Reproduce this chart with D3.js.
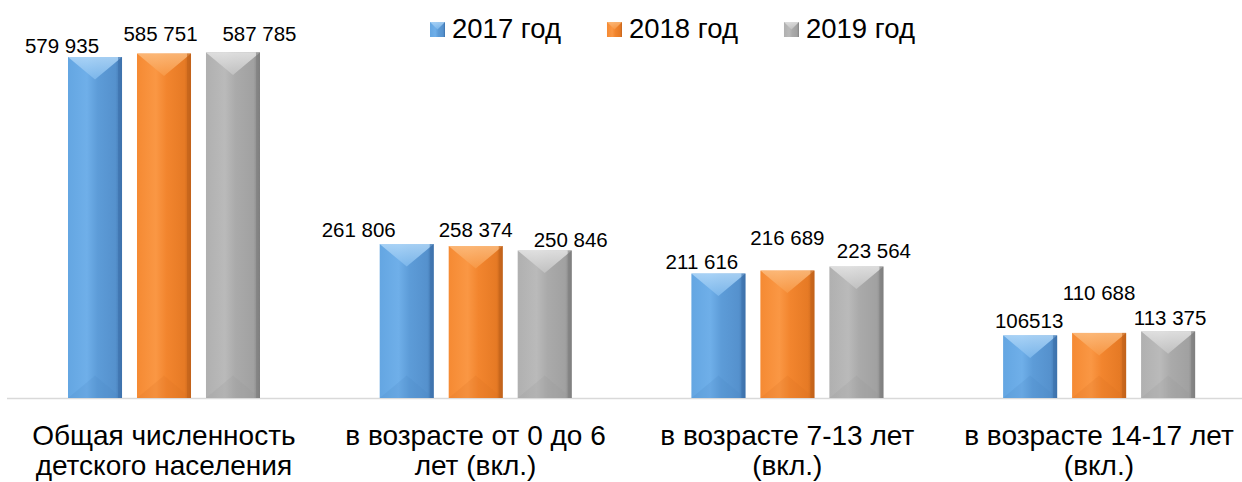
<!DOCTYPE html>
<html><head><meta charset="utf-8">
<script src="https://cdn.jsdelivr.net/npm/d3@7"></script>
<style>
html,body{margin:0;padding:0;background:#fff;}
svg{display:block;font-family:"Liberation Sans",Arial,Helvetica,sans-serif;}
</style>
</head><body>
<svg id="chart" width="1242" height="482"></svg>
<script>
// ---------- DATA ----------
const categories = [
  "Общая численность детского населения",
  "в возрасте от 0 до 6 лет (вкл.)",
  "в возрасте 7-13 лет (вкл.)",
  "в возрасте 14-17 лет (вкл.)"
];
const seriesNames = ["2017 год", "2018 год", "2019 год"];
const values2017 = [579935, 261806, 211616, 106513];
const values2018 = [585751, 258374, 216689, 110688];
const values2019 = [587785, 250846, 223564, 113375];
const labels2017 = ["579 935", "261 806", "211 616", "106513"];
const labels2018 = ["585 751", "258 374", "216 689", "110 688"];
const labels2019 = ["587 785", "250 846", "223 564", "113 375"];

// ---------- LAYOUT / STYLE ----------
const W = 1242, H = 482;
const baseY = 398.5;
const labelNudge = [ // [dx, dy] of value labels per series per category (label placement in source)
  [[-33, -4], [-48, -7], [-16.5, -4.6], [-1, -7.4]],
  [[-3.5, -12.5], [0, -9], [0, -25.6], [0, -33]],
  [[26.5, -11.5], [26, -3.5], [17.5, -8.5], [2, -6.3]]
];
const palette = [
  {body: ["#64a6e2", "#6fafe9", "#5d9cd8", "#5591cd", "#3d72ab"], top: ["#b2d8f8", "#80baed"], bot: "#4a86c2"},
  {body: ["#f58a33", "#fa9744", "#f2852e", "#e67a25", "#c2621a"], top: ["#fcbd80", "#f89a48"], bot: "#d96f20"},
  {body: ["#b0b0b0", "#bababa", "#aaaaaa", "#a1a1a1", "#7f7f7f"], top: ["#e6e6e6", "#c4c4c4"], bot: "#989898"}
];

const seriesValues = [values2017, values2018, values2019];
const seriesLabels = [labels2017, labels2018, labels2019];
const rows = [];
seriesNames.forEach((s, si) => categories.forEach((c, ci) => rows.push({
  series: s, si, cat: c, ci, value: seriesValues[si][ci], label: seriesLabels[si][ci]
})));

const svg = d3.select("#chart");
const defs = svg.append("defs");
palette.forEach((p, i) => {
  const g = defs.append("linearGradient").attr("id", "body" + i).attr("x1", 0).attr("x2", 1).attr("y1", 0).attr("y2", 0);
  [0, 0.35, 0.55, 0.88, 1].forEach((o, k) => g.append("stop").attr("offset", o).attr("stop-color", p.body[k]));
  const t = defs.append("linearGradient").attr("id", "top" + i).attr("x1", 0).attr("x2", 0).attr("y1", 0).attr("y2", 1);
  t.append("stop").attr("offset", 0).attr("stop-color", p.top[0]);
  t.append("stop").attr("offset", 1).attr("stop-color", p.top[1]);
});

const x0 = d3.scaleBand().domain(categories).range([8, 1254.8]).padding(0);
const x1 = d3.scaleBand().domain(seriesNames).range([60, 252]).paddingInner(0.217).paddingOuter(0);
const y = d3.scaleLinear().domain([0, 600000]).range([baseY - 0.5, 45.2]);

// axis line
const axis = svg.append("g").attr("transform", `translate(0,${baseY})`)
  .call(d3.axisBottom(x0).tickSize(0).tickFormat(""));
axis.select(".domain").attr("stroke", "#d9d9d9").attr("stroke-width", 1.5).attr("d", `M7,0H${W}`);

// bars
const bars = svg.append("g").selectAll("g").data(rows).join("g")
  .attr("transform", d => `translate(${x0(d.cat) + x1(d.series)},0)`);
const bw = x1.bandwidth();
bars.append("rect")
  .attr("x", 0).attr("y", d => y(d.value))
  .attr("width", bw).attr("height", d => y(0) - y(d.value))
  .attr("fill", d => `url(#body${d.si})`);
bars.append("path")
  .attr("d", d => {
    const t = y(d.value), h = y(0) - t, dep = Math.min(bw / 2.4, h / 2);
    return `M0,${t}L${bw},${t}L${bw / 2},${t + dep}Z`;
  })
  .attr("fill", d => `url(#top${d.si})`).attr("opacity", 0.85);
bars.append("path")
  .attr("d", d => {
    const t = y(d.value), b = y(0), h = b - t, dep = Math.min(bw / 2.4, h / 2);
    return `M0,${b}L${bw},${b}L${bw / 2},${b - dep}Z`;
  })
  .attr("fill", d => palette[d.si].bot).attr("opacity", 0.18);
bars.append("rect")
  .attr("x", bw - 4).attr("y", d => y(d.value))
  .attr("width", 4).attr("height", d => y(0) - y(d.value))
  .attr("fill", d => palette[d.si].body[4]).attr("opacity", 0.6);

// value labels
svg.append("g").selectAll("text").data(rows).join("text")
  .attr("x", d => x0(d.cat) + x1(d.series) + bw / 2 + labelNudge[d.si][d.ci][0])
  .attr("y", d => y(d.value) + labelNudge[d.si][d.ci][1])
  .attr("text-anchor", "middle")
  .attr("font-size", 20.5).attr("fill", "#000")
  .text(d => d.label);

// category labels (wrapped)
const catG = svg.append("g").selectAll("text").data(categories).join("text")
  .attr("x", d => x0(d) + x0.bandwidth() / 2)
  .attr("y", 444.5)
  .attr("text-anchor", "middle")
  .attr("font-size", 28).attr("fill", "#000");
catG.each(function (d) {
  const el = d3.select(this);
  const words = d.split(" ");
  let line = [];
  let tspan = el.append("tspan").attr("x", x0(d) + x0.bandwidth() / 2).attr("dy", 0);
  words.forEach(w => {
    line.push(w);
    tspan.text(line.join(" "));
    if (tspan.node().getComputedTextLength() > 296 && line.length > 1) {
      line.pop();
      tspan.text(line.join(" "));
      line = [w];
      tspan = el.append("tspan").attr("x", x0(d) + x0.bandwidth() / 2).attr("dy", 30).text(w);
    }
  });
});

// legend
const legend = svg.append("g");
let lx = 430;
seriesNames.forEach((s, i) => {
  const g = legend.append("g");
  g.append("rect").attr("x", lx).attr("y", 22).attr("width", 15).attr("height", 15)
    .attr("fill", `url(#body${i})`);
  g.append("path").attr("d", `M${lx},22L${lx + 15},22L${lx + 7.5},29.5Z`).attr("fill", `url(#top${i})`).attr("opacity", 0.8);
  const t = g.append("text").attr("x", lx + 22).attr("y", 37.5)
    .attr("font-size", 27.5).attr("fill", "#000").text(s);
  lx += 22 + t.node().getComputedTextLength() + 46;
});
</script>
</body></html>
